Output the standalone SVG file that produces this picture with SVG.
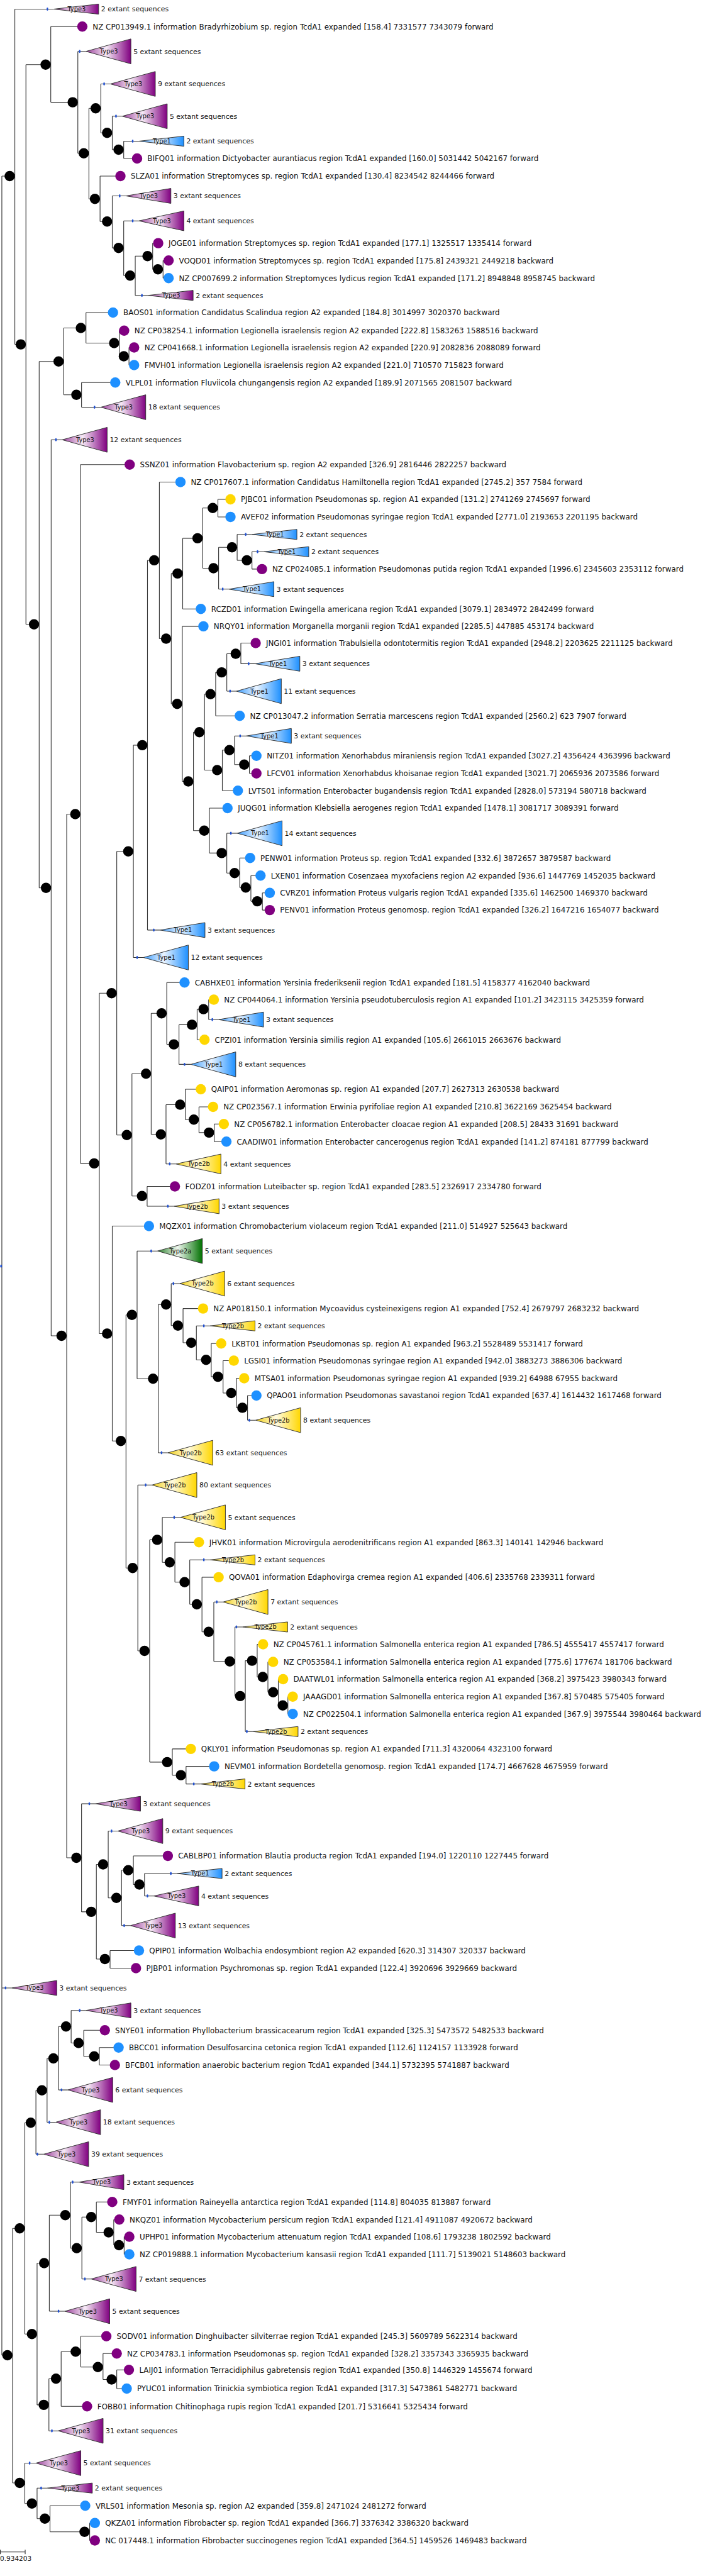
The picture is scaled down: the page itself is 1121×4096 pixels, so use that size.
<svg xmlns="http://www.w3.org/2000/svg" width="1121" height="4096" viewBox="0 0 1121 4096">
<defs>
<linearGradient id="G3" x1="0" y1="0" x2="1" y2="0"><stop offset="0" stop-color="#9b3f9b"/><stop offset="0.45" stop-color="#f6eaf6"/><stop offset="1" stop-color="#800080"/></linearGradient>
<linearGradient id="G1" x1="0" y1="0" x2="1" y2="0"><stop offset="0" stop-color="#3a9cff"/><stop offset="0.45" stop-color="#eaf4ff"/><stop offset="1" stop-color="#1e90ff"/></linearGradient>
<linearGradient id="G2b" x1="0" y1="0" x2="1" y2="0"><stop offset="0" stop-color="#f2cf10"/><stop offset="0.45" stop-color="#fffbe2"/><stop offset="1" stop-color="#ffd700"/></linearGradient>
<linearGradient id="G2a" x1="0" y1="0" x2="1" y2="0"><stop offset="0" stop-color="#2a7f2a"/><stop offset="0.45" stop-color="#eef6ee"/><stop offset="1" stop-color="#007000"/></linearGradient>
<style>
polygon{stroke:#333;stroke-width:1.4}
.g3{fill:url(#G3)}.g1{fill:url(#G1)}.g2b{fill:url(#G2b)}.g2a{fill:url(#G2a)}
text{font-family:"DejaVu Sans","Liberation Sans",sans-serif;fill:#111}
.lt{font-size:17px}
.et{font-size:15.6px}
.tt{font-size:14px;text-anchor:middle}
.sb{font-size:15px}
.c{fill:#000}
.p{fill:#800080}.b{fill:#1e90ff}.y{fill:#ffd700}
.m{fill:#2050d0}
#connectors path{fill:none;stroke:#333;stroke-width:1.6}
</style>
</defs>
<rect width="1121" height="4096" fill="#fff"/>
<g transform="scale(0.7)">
<g id="connectors">
<path d="M4.2 400V5350M4.2 400H22M4.2 4515.7H26.9M4.2 5350H16.9"/>
<path d="M33.7 20.7V782.3M33.7 20.7H122M33.7 782.3H47.2"/>
<path d="M58.9 146.7V1418.3M58.9 146.7H103.6M58.9 1418.3H77.3"/>
<path d="M115.3 60.3V232.3M115.3 60.3H187M115.3 232.3H165.1"/>
<path d="M176.8 116.7V348.3M176.8 116.7H195.3M176.8 348.3H190.3"/>
<path d="M202 246V451.7M202 246H217.3M202 451.7H215.6"/>
<path d="M229 190.7V301.7M229 190.7H250.8M229 301.7H243.3"/>
<path d="M255 264V340M255 264H277.8M255 340H269.3"/>
<path d="M281 320.7V360M281 320.7H315.7M281 360H311.4"/>
<path d="M227.3 400V503.3M227.3 400H273.6M227.3 503.3H243.3"/>
<path d="M255 445V563.3M255 445H286.2M255 563.3H269.3"/>
<path d="M281 501.7V626M281 501.7H315.7M281 626H295.5"/>
<path d="M307.2 581.7V671M307.2 581.7H335.1M307.2 671H336.7"/>
<path d="M346.8 552.3V611.7M346.8 552.3H359.4M346.8 611.7H358.7"/>
<path d="M370.4 591.7V631.7M370.4 591.7H383M370.4 631.7H383"/>
<path d="M89 821V2016.7M89 821H133.1M89 2016.7H104.5"/>
<path d="M144.8 745V896.7M144.8 745H183.6M144.8 896.7H173.5"/>
<path d="M195.3 710V779.3M195.3 710H256.7M195.3 779.3H259.3"/>
<path d="M271 751V809.3M271 751H282M271 809.3H281.3"/>
<path d="M293 789.3V829.3M293 789.3H304.7M293 829.3H304.7"/>
<path d="M185.2 869V925M185.2 869H261.8M185.2 925H229"/>
<path d="M116.2 999V3034.3M116.2 999H141.4M116.2 3034.3H139.8"/>
<path d="M151.5 1849.3V4220M151.5 1849.3H171M151.5 4220H173.5"/>
<path d="M182.7 1055.3V2642.7M182.7 1055.3H294.6M182.7 2642.7H213.9"/>
<path d="M225.6 2256V3029.3M225.6 2256H253.5M225.6 3029.3H243.3"/>
<path d="M265.2 1934V2578.3M265.2 1934H291.3M265.2 2578.3H288"/>
<path d="M303 1692.7V2175M303 1692.7H323.3M303 2175H325.8"/>
<path d="M335 1272.7V2112.7M335 1272.7H350.3M335 2112.7H363.6"/>
<path d="M362 1095V1450.7M362 1095H410M362 1450.7H377.3"/>
<path d="M389 1302.7V1599M389 1302.7H403.3M389 1599H402.4"/>
<path d="M415 1222.7V1383.3M415 1222.7H448.7M415 1383.3H456.2"/>
<path d="M460.4 1154V1290.7M460.4 1154H483.3M460.4 1290.7H484.9"/>
<path d="M495 1134.3V1174.3M495 1134.3H523.6M495 1174.3H523.6"/>
<path d="M496.6 1243.3V1338.3M496.6 1243.3H527M496.6 1338.3H520.2"/>
<path d="M538.7 1214V1272.7M538.7 1214H572.4M538.7 1272.7H560.7"/>
<path d="M572.4 1253.3V1292.7M572.4 1253.3H599.3M572.4 1292.7H595.1"/>
<path d="M414.1 1422.7V1775M414.1 1422.7H462.1M414.1 1775H427.7"/>
<path d="M439.4 1663.3V1886.7M439.4 1663.3H452.9M439.4 1886.7H463.9"/>
<path d="M464.6 1576.7V1749.3M464.6 1576.7H478.2M464.6 1749.3H493.3"/>
<path d="M489.9 1527.3V1626M489.9 1527.3H503.5M489.9 1626H544.6"/>
<path d="M515.2 1485V1570M515.2 1485H535.4M515.2 1570H537"/>
<path d="M547.1 1460.7V1507.7M547.1 1460.7H580.8M547.1 1507.7H579.1"/>
<path d="M505 1704V1796M505 1704H521.1M505 1796H540.4"/>
<path d="M532.8 1671.7V1736.7M532.8 1671.7H559.8M532.8 1736.7H554.8"/>
<path d="M566.5 1716.7V1756.7M566.5 1716.7H582.5M566.5 1756.7H582.5"/>
<path d="M475.6 1835.7V1937.7M475.6 1835.7H516.8M475.6 1937.7H503.5"/>
<path d="M515.2 1892.7V1983.3M515.2 1892.7H538.7M515.2 1983.3H532.9"/>
<path d="M544.6 1949V2016M544.6 1949H568.2M544.6 2016H558.2"/>
<path d="M569.9 1989V2047.3M569.9 1989H591.8M569.9 2047.3H584.3"/>
<path d="M596 2028.3V2067.3M596 2028.3H612.8M596 2067.3H612.8"/>
<path d="M299.7 2439V2716.7M299.7 2439H331.7M299.7 2716.7H322.5"/>
<path d="M343.4 2301.7V2576.7M343.4 2301.7H367.1M343.4 2576.7H365.4"/>
<path d="M378.8 2231.7V2372.3M378.8 2231.7H419.2M378.8 2372.3H394.9"/>
<path d="M406.6 2327.7V2417.7M406.6 2327.7H436.1M406.6 2417.7H433.5"/>
<path d="M447.8 2292.3V2361.7M447.8 2292.3H462.3M447.8 2361.7H464.6"/>
<path d="M474 2270.7V2316M474 2270.7H485.7M474 2316H496.6"/>
<path d="M377.1 2509.3V2644M377.1 2509.3H409.2M377.1 2644H399.8"/>
<path d="M420.9 2474.3V2543.3M420.9 2474.3H456.2M420.9 2543.3H440.3"/>
<path d="M452 2514.3V2572.7M452 2514.3H484M452 2572.7H474.8"/>
<path d="M486.5 2553.3V2593.3M486.5 2553.3H508.4M486.5 2593.3H514.3"/>
<path d="M334.2 2695V2740M334.2 2695H397.3M334.2 2740H395.6"/>
<path d="M255 2785V3273.3M255 2785H338.4M255 3273.3H274.5"/>
<path d="M286.2 2986.7V3561.7M286.2 2986.7H299.7M286.2 3561.7H301.4"/>
<path d="M311.4 2841.7V3131.7M311.4 2841.7H357.7M311.4 3131.7H347.7"/>
<path d="M359.4 2963.3V3300M359.4 2963.3H377.2M359.4 3300H381.3"/>
<path d="M388.9 2915.7V3011M388.9 2915.7H408.2M388.9 3011H404.1"/>
<path d="M415.8 2972.3V3050M415.8 2972.3H461.3M415.8 3050H434.4"/>
<path d="M446.1 3011.7V3089M446.1 3011.7H477.3M446.1 3089H468.1"/>
<path d="M479.8 3051.7V3127.3M479.8 3051.7H502.5M479.8 3127.3H495"/>
<path d="M506.7 3090.7V3164.3M506.7 3090.7H531.1M506.7 3164.3H525.3"/>
<path d="M537 3130.7V3197.7M537 3130.7H554.7M537 3197.7H550.6"/>
<path d="M562.3 3170V3226M562.3 3170H582.5M562.3 3226H580.8"/>
<path d="M313.1 3373.3V3750M313.1 3373.3H345.1M313.1 3750H328.3"/>
<path d="M340 3497.7V4002.7M340 3497.7H357M340 4002.7H379.7"/>
<path d="M368.7 3446.7V3549M368.7 3446.7H410M368.7 3549H385.6"/>
<path d="M397.3 3503.3V3594M397.3 3503.3H452M397.3 3594H419.3"/>
<path d="M431 3543.3V3644.3M431 3543.3H477.3M431 3644.3H447.1"/>
<path d="M458.8 3582.7V3706.7M458.8 3582.7H496.6M458.8 3706.7H474"/>
<path d="M485.7 3639V3774M485.7 3639H506.7M485.7 3774H522"/>
<path d="M533.7 3695.7V3852.7M533.7 3695.7H551.3M533.7 3852.7H545.5"/>
<path d="M557.2 3772.3V3933.3M557.2 3772.3H572.5M557.2 3933.3H575"/>
<path d="M584.2 3735V3809.3M584.2 3735H597.6M584.2 3809.3H596.9"/>
<path d="M608.6 3775V3844M608.6 3775H620.4M608.6 3844H620.5"/>
<path d="M632.2 3814.3V3874M632.2 3814.3H643.1M632.2 3874H642.3"/>
<path d="M654 3854V3893.3M654 3854H665M654 3893.3H665"/>
<path d="M391.4 3972.7V4032.3M391.4 3972.7H433.5M391.4 4032.3H410.9"/>
<path d="M422.6 4012.3V4052.3M422.6 4012.3H486.5M422.6 4052.3H454.5"/>
<path d="M185.2 4097.3V4342.7M185.2 4097.3H217.2M185.2 4342.7H207.2"/>
<path d="M218.9 4235V4450M218.9 4235H234.1M218.9 4450H238.3"/>
<path d="M245.8 4159.3V4311M245.8 4159.3H267.7M245.8 4311H264.4"/>
<path d="M276.1 4248.3V4374M276.1 4248.3H291.3M276.1 4374H296.3"/>
<path d="M303 4215.7V4280.7M303 4215.7H381.3M303 4280.7H316.6"/>
<path d="M328.3 4255.7V4306.7M328.3 4255.7H402.4M328.3 4306.7H349.3"/>
<path d="M250 4430.7V4470.7M250 4430.7H315.7M250 4470.7H308.9"/>
<path d="M28.6 5061.7V5640M28.6 5061.7H44.7M28.6 5640H44.7"/>
<path d="M56.4 4821.7V5301.7M56.4 4821.7H69.9M56.4 5301.7H72.5"/>
<path d="M81.6 4748.3V4893.3M81.6 4748.3H95.2M81.6 4893.3H99.3"/>
<path d="M106.9 4675.7V4820.7M106.9 4675.7H121.3M106.9 4820.7H126.3"/>
<path d="M133 4603.3V4747.3M133 4603.3H149.9M133 4747.3H154"/>
<path d="M161.6 4566.7V4640.7M161.6 4566.7H195.3M161.6 4640.7H178.5"/>
<path d="M190.2 4611.7V4671M190.2 4611.7H238.2M190.2 4671H213.9"/>
<path d="M225.6 4651V4690.7M225.6 4651H269.4M225.6 4690.7H261"/>
<path d="M84.2 5140.7V5462.7M84.2 5140.7H100.3M84.2 5462.7H99.4"/>
<path d="M112 5031.7V5250M112 5031.7H148.3M112 5250H147.3"/>
<path d="M160 4956.7V5106.7M160 4956.7H179.3M160 5106.7H174.3"/>
<path d="M186 5036V5176.7M186 5036H207.2M186 5176.7H207.1"/>
<path d="M218.9 5001.7V5070.7M218.9 5001.7H255M218.9 5070.7H246.7"/>
<path d="M258.4 5041.7V5100M258.4 5041.7H271M258.4 5100H270.3"/>
<path d="M282 5080.7V5120.7M282 5080.7H293.8M282 5120.7H293.8"/>
<path d="M111.1 5403.3V5521.7M111.1 5403.3H127.2M111.1 5521.7H132.2"/>
<path d="M138.9 5341.7V5466M138.9 5341.7H171.8M138.9 5466H197.8"/>
<path d="M183.5 5306.7V5376.7M183.5 5306.7H241.6M183.5 5376.7H222.3"/>
<path d="M234 5346V5405M234 5346H265.2M234 5405H253.5"/>
<path d="M265.2 5383.3V5425.7M265.2 5383.3H292.9M265.2 5425.7H287.9"/>
<path d="M56.4 5595V5686.7M56.4 5595H81.6M56.4 5686.7H72.5"/>
<path d="M84.2 5651.7V5721M84.2 5651.7H107.7M84.2 5721H101.9"/>
<path d="M113.6 5691.7V5751M113.6 5691.7H193.6M113.6 5751H192"/>
<path d="M203.7 5731V5770.7M203.7 5731H215.5M203.7 5770.7H215.5"/>
</g>
<g id="root"><ellipse class="m" cx="2.5" cy="2876" rx="2" ry="3.5"/></g>
<g id="internal-nodes">
<g id="nA"><circle class="c" cx="22" cy="400" r="11.7"/></g>
<g id="nB"><circle class="c" cx="47.2" cy="782.3" r="11.7"/></g>
<g id="na"><circle class="c" cx="103.6" cy="146.7" r="11.7"/></g>
<g id="nb"><circle class="c" cx="165.1" cy="232.3" r="11.7"/></g>
<g id="nd"><circle class="c" cx="190.3" cy="348.3" r="11.7"/></g>
<g id="nc"><circle class="c" cx="217.3" cy="246" r="11.7"/></g>
<g id="ne"><circle class="c" cx="243.3" cy="301.7" r="11.7"/></g>
<g id="nf"><circle class="c" cx="269.3" cy="340" r="11.7"/></g>
<g id="ng"><circle class="c" cx="215.6" cy="451.7" r="11.7"/></g>
<g id="nh"><circle class="c" cx="243.3" cy="503.3" r="11.7"/></g>
<g id="ni"><circle class="c" cx="269.3" cy="563.3" r="11.7"/></g>
<g id="nj"><circle class="c" cx="295.5" cy="626" r="11.7"/></g>
<g id="nk"><circle class="c" cx="335.1" cy="581.7" r="11.7"/></g>
<g id="nl"><circle class="c" cx="358.7" cy="611.7" r="11.7"/></g>
<g id="nC"><circle class="c" cx="77.3" cy="1418.3" r="11.7"/></g>
<g id="nm"><circle class="c" cx="133.1" cy="821" r="11.7"/></g>
<g id="nn"><circle class="c" cx="183.6" cy="745" r="11.7"/></g>
<g id="no"><circle class="c" cx="259.3" cy="779.3" r="11.7"/></g>
<g id="np"><circle class="c" cx="281.3" cy="809.3" r="11.7"/></g>
<g id="nq"><circle class="c" cx="173.5" cy="896.7" r="11.7"/></g>
<g id="nD"><circle class="c" cx="104.5" cy="2016.7" r="11.7"/></g>
<g id="nE"><circle class="c" cx="139.8" cy="3034.3" r="11.7"/></g>
<g id="nF"><circle class="c" cx="171" cy="1849.3" r="11.7"/></g>
<g id="nG"><circle class="c" cx="213.9" cy="2642.7" r="11.7"/></g>
<g id="nJ"><circle class="c" cx="253.5" cy="2256" r="11.7"/></g>
<g id="nI"><circle class="c" cx="291.3" cy="1934" r="11.7"/></g>
<g id="nH"><circle class="c" cx="323.3" cy="1692.7" r="11.7"/></g>
<g id="nr"><circle class="c" cx="350.3" cy="1272.7" r="11.7"/></g>
<g id="nt"><circle class="c" cx="377.3" cy="1450.7" r="11.7"/></g>
<g id="ns"><circle class="c" cx="403.3" cy="1302.7" r="11.7"/></g>
<g id="nu"><circle class="c" cx="448.7" cy="1222.7" r="11.7"/></g>
<g id="nv"><circle class="c" cx="483.3" cy="1154" r="11.7"/></g>
<g id="nw"><circle class="c" cx="484.9" cy="1290.7" r="11.7"/></g>
<g id="nx"><circle class="c" cx="527" cy="1243.3" r="11.7"/></g>
<g id="ny"><circle class="c" cx="560.7" cy="1272.7" r="11.7"/></g>
<g id="nz"><circle class="c" cx="402.4" cy="1599" r="11.7"/></g>
<g id="naa"><circle class="c" cx="427.7" cy="1775" r="11.7"/></g>
<g id="nae"><circle class="c" cx="452.9" cy="1663.3" r="11.7"/></g>
<g id="nad"><circle class="c" cx="478.2" cy="1576.7" r="11.7"/></g>
<g id="nac"><circle class="c" cx="503.5" cy="1527.3" r="11.7"/></g>
<g id="nab"><circle class="c" cx="535.4" cy="1485" r="11.7"/></g>
<g id="naf"><circle class="c" cx="493.3" cy="1749.3" r="11.7"/></g>
<g id="nag"><circle class="c" cx="521.1" cy="1704" r="11.7"/></g>
<g id="nah"><circle class="c" cx="554.8" cy="1736.7" r="11.7"/></g>
<g id="nai"><circle class="c" cx="463.9" cy="1886.7" r="11.7"/></g>
<g id="naj"><circle class="c" cx="503.5" cy="1937.7" r="11.7"/></g>
<g id="nak"><circle class="c" cx="532.9" cy="1983.3" r="11.7"/></g>
<g id="nal"><circle class="c" cx="558.2" cy="2016" r="11.7"/></g>
<g id="nam"><circle class="c" cx="584.3" cy="2047.3" r="11.7"/></g>
<g id="naw"><circle class="c" cx="288" cy="2578.3" r="11.7"/></g>
<g id="nap"><circle class="c" cx="331.7" cy="2439" r="11.7"/></g>
<g id="nan"><circle class="c" cx="367.1" cy="2301.7" r="11.7"/></g>
<g id="nao"><circle class="c" cx="394.9" cy="2372.3" r="11.7"/></g>
<g id="naq"><circle class="c" cx="436.1" cy="2327.7" r="11.7"/></g>
<g id="nar"><circle class="c" cx="462.3" cy="2292.3" r="11.7"/></g>
<g id="nas"><circle class="c" cx="365.4" cy="2576.7" r="11.7"/></g>
<g id="nat"><circle class="c" cx="409.2" cy="2509.3" r="11.7"/></g>
<g id="nau"><circle class="c" cx="440.3" cy="2543.3" r="11.7"/></g>
<g id="nav"><circle class="c" cx="474.8" cy="2572.7" r="11.7"/></g>
<g id="nax"><circle class="c" cx="322.5" cy="2716.7" r="11.7"/></g>
<g id="nay"><circle class="c" cx="243.3" cy="3029.3" r="11.7"/></g>
<g id="naz"><circle class="c" cx="274.5" cy="3273.3" r="11.7"/></g>
<g id="nba"><circle class="c" cx="299.7" cy="2986.7" r="11.7"/></g>
<g id="nbb"><circle class="c" cx="347.7" cy="3131.7" r="11.7"/></g>
<g id="nbc"><circle class="c" cx="377.2" cy="2963.3" r="11.7"/></g>
<g id="nbd"><circle class="c" cx="404.1" cy="3011" r="11.7"/></g>
<g id="nbe"><circle class="c" cx="434.4" cy="3050" r="11.7"/></g>
<g id="nbf"><circle class="c" cx="468.1" cy="3089" r="11.7"/></g>
<g id="nbg"><circle class="c" cx="495" cy="3127.3" r="11.7"/></g>
<g id="nbh"><circle class="c" cx="525.3" cy="3164.3" r="11.7"/></g>
<g id="nbi"><circle class="c" cx="550.6" cy="3197.7" r="11.7"/></g>
<g id="nbj"><circle class="c" cx="301.4" cy="3561.7" r="11.7"/></g>
<g id="nbw"><circle class="c" cx="328.3" cy="3750" r="11.7"/></g>
<g id="nbl"><circle class="c" cx="357" cy="3497.7" r="11.7"/></g>
<g id="nbm"><circle class="c" cx="385.6" cy="3549" r="11.7"/></g>
<g id="nbn"><circle class="c" cx="419.3" cy="3594" r="11.7"/></g>
<g id="nbo"><circle class="c" cx="447.1" cy="3644.3" r="11.7"/></g>
<g id="nbp"><circle class="c" cx="474" cy="3706.7" r="11.7"/></g>
<g id="nbq"><circle class="c" cx="522" cy="3774" r="11.7"/></g>
<g id="nbr"><circle class="c" cx="545.5" cy="3852.7" r="11.7"/></g>
<g id="nbs"><circle class="c" cx="572.5" cy="3772.3" r="11.7"/></g>
<g id="nbt"><circle class="c" cx="596.9" cy="3809.3" r="11.7"/></g>
<g id="nbu"><circle class="c" cx="620.5" cy="3844" r="11.7"/></g>
<g id="nbv"><circle class="c" cx="642.3" cy="3874" r="11.7"/></g>
<g id="nbx"><circle class="c" cx="379.7" cy="4002.7" r="11.7"/></g>
<g id="nby"><circle class="c" cx="410.9" cy="4032.3" r="11.7"/></g>
<g id="nbk"><circle class="c" cx="173.5" cy="4220" r="11.7"/></g>
<g id="nbz"><circle class="c" cx="207.2" cy="4342.7" r="11.7"/></g>
<g id="nca"><circle class="c" cx="234.1" cy="4235" r="11.7"/></g>
<g id="ncc"><circle class="c" cx="264.4" cy="4311" r="11.7"/></g>
<g id="ncd"><circle class="c" cx="291.3" cy="4248.3" r="11.7"/></g>
<g id="nce"><circle class="c" cx="316.6" cy="4280.7" r="11.7"/></g>
<g id="ncb"><circle class="c" cx="238.3" cy="4450" r="11.7"/></g>
<g id="ncf"><circle class="c" cx="16.9" cy="5350" r="11.7"/></g>
<g id="ncg"><circle class="c" cx="44.7" cy="5061.7" r="11.7"/></g>
<g id="nci"><circle class="c" cx="69.9" cy="4821.7" r="11.7"/></g>
<g id="nck"><circle class="c" cx="95.2" cy="4748.3" r="11.7"/></g>
<g id="ncl"><circle class="c" cx="121.3" cy="4675.7" r="11.7"/></g>
<g id="ncm"><circle class="c" cx="149.9" cy="4603.3" r="11.7"/></g>
<g id="ncn"><circle class="c" cx="178.5" cy="4640.7" r="11.7"/></g>
<g id="nco"><circle class="c" cx="213.9" cy="4671" r="11.7"/></g>
<g id="ncj"><circle class="c" cx="72.5" cy="5301.7" r="11.7"/></g>
<g id="ncp"><circle class="c" cx="100.3" cy="5140.7" r="11.7"/></g>
<g id="ncr"><circle class="c" cx="148.3" cy="5031.7" r="11.7"/></g>
<g id="ncs"><circle class="c" cx="174.3" cy="5106.7" r="11.7"/></g>
<g id="nct"><circle class="c" cx="207.2" cy="5036" r="11.7"/></g>
<g id="ncu"><circle class="c" cx="246.7" cy="5070.7" r="11.7"/></g>
<g id="ncv"><circle class="c" cx="270.3" cy="5100" r="11.7"/></g>
<g id="ncq"><circle class="c" cx="99.4" cy="5462.7" r="11.7"/></g>
<g id="ncw"><circle class="c" cx="127.2" cy="5403.3" r="11.7"/></g>
<g id="ncx"><circle class="c" cx="171.8" cy="5341.7" r="11.7"/></g>
<g id="ncy"><circle class="c" cx="222.3" cy="5376.7" r="11.7"/></g>
<g id="ncz"><circle class="c" cx="253.5" cy="5405" r="11.7"/></g>
<g id="nch"><circle class="c" cx="44.7" cy="5640" r="11.7"/></g>
<g id="nda"><circle class="c" cx="72.5" cy="5686.7" r="11.7"/></g>
<g id="ndb"><circle class="c" cx="101.9" cy="5721" r="11.7"/></g>
<g id="ndc"><circle class="c" cx="192" cy="5751" r="11.7"/></g>
</g>
<g id="collapsed-clades">
<g id="t1" transform="translate(122,20.7)"><polygon class="g3" points="0,0 102,-11.5 102,11.5"/><ellipse class="m" cx="-14.3" rx="2" ry="3.5"/><text class="tt" x="52" y="5">Type3</text><text class="et" x="107.8" y="5.6">2 extant sequences</text></g>
<g id="t2" transform="translate(195.3,116.7)"><polygon class="g3" points="0,0 102,-28.3 102,28.3"/><ellipse class="m" cx="-14.3" rx="2" ry="3.5"/><text class="tt" x="52" y="5">Type3</text><text class="et" x="107.8" y="5.6">5 extant sequences</text></g>
<g id="t3" transform="translate(250.8,190.7)"><polygon class="g3" points="0,0 102,-28.3 102,28.3"/><ellipse class="m" cx="-14.3" rx="2" ry="3.5"/><text class="tt" x="52" y="5">Type3</text><text class="et" x="107.8" y="5.6">9 extant sequences</text></g>
<g id="t4" transform="translate(277.8,264)"><polygon class="g3" points="0,0 102,-28.3 102,28.3"/><ellipse class="m" cx="-14.3" rx="2" ry="3.5"/><text class="tt" x="52" y="5">Type3</text><text class="et" x="107.8" y="5.6">5 extant sequences</text></g>
<g id="t5" transform="translate(315.7,320.7)"><polygon class="g1" points="0,0 102,-11.5 102,11.5"/><ellipse class="m" cx="-14.3" rx="2" ry="3.5"/><text class="tt" x="52" y="5">Type1</text><text class="et" x="107.8" y="5.6">2 extant sequences</text></g>
<g id="t6" transform="translate(286.2,445)"><polygon class="g3" points="0,0 102,-17 102,17"/><ellipse class="m" cx="-14.3" rx="2" ry="3.5"/><text class="tt" x="52" y="5">Type3</text><text class="et" x="107.8" y="5.6">3 extant sequences</text></g>
<g id="t7" transform="translate(315.7,501.7)"><polygon class="g3" points="0,0 102,-22.5 102,22.5"/><ellipse class="m" cx="-14.3" rx="2" ry="3.5"/><text class="tt" x="52" y="5">Type3</text><text class="et" x="107.8" y="5.6">4 extant sequences</text></g>
<g id="t8" transform="translate(336.7,671)"><polygon class="g3" points="0,0 102,-11.5 102,11.5"/><ellipse class="m" cx="-14.3" rx="2" ry="3.5"/><text class="tt" x="52" y="5">Type3</text><text class="et" x="107.8" y="5.6">2 extant sequences</text></g>
<g id="t9" transform="translate(229,925)"><polygon class="g3" points="0,0 102,-28.3 102,28.3"/><ellipse class="m" cx="-14.3" rx="2" ry="3.5"/><text class="tt" x="52" y="5">Type3</text><text class="et" x="107.8" y="5.6">18 extant sequences</text></g>
<g id="t10" transform="translate(141.4,999)"><polygon class="g3" points="0,0 102,-28.3 102,28.3"/><ellipse class="m" cx="-14.3" rx="2" ry="3.5"/><text class="tt" x="52" y="5">Type3</text><text class="et" x="107.8" y="5.6">12 extant sequences</text></g>
<g id="ta" transform="translate(572.4,1214)"><polygon class="g1" points="0,0 102,-11.5 102,11.5"/><ellipse class="m" cx="-14.3" rx="2" ry="3.5"/><text class="tt" x="52" y="5">Type1</text><text class="et" x="107.8" y="5.6">2 extant sequences</text></g>
<g id="tb" transform="translate(599.3,1253.3)"><polygon class="g1" points="0,0 102,-11.5 102,11.5"/><ellipse class="m" cx="-14.3" rx="2" ry="3.5"/><text class="tt" x="52" y="5">Type1</text><text class="et" x="107.8" y="5.6">2 extant sequences</text></g>
<g id="tc" transform="translate(520.2,1338.3)"><polygon class="g1" points="0,0 102,-17 102,17"/><ellipse class="m" cx="-14.3" rx="2" ry="3.5"/><text class="tt" x="52" y="5">Type1</text><text class="et" x="107.8" y="5.6">3 extant sequences</text></g>
<g id="td" transform="translate(579.1,1507.7)"><polygon class="g1" points="0,0 102,-17 102,17"/><ellipse class="m" cx="-14.3" rx="2" ry="3.5"/><text class="tt" x="52" y="5">Type1</text><text class="et" x="107.8" y="5.6">3 extant sequences</text></g>
<g id="te" transform="translate(537,1570)"><polygon class="g1" points="0,0 102,-28.3 102,28.3"/><ellipse class="m" cx="-14.3" rx="2" ry="3.5"/><text class="tt" x="52" y="5">Type1</text><text class="et" x="107.8" y="5.6">11 extant sequences</text></g>
<g id="tf" transform="translate(559.8,1671.7)"><polygon class="g1" points="0,0 102,-17 102,17"/><ellipse class="m" cx="-14.3" rx="2" ry="3.5"/><text class="tt" x="52" y="5">Type1</text><text class="et" x="107.8" y="5.6">3 extant sequences</text></g>
<g id="tg" transform="translate(538.7,1892.7)"><polygon class="g1" points="0,0 102,-28.3 102,28.3"/><ellipse class="m" cx="-14.3" rx="2" ry="3.5"/><text class="tt" x="52" y="5">Type1</text><text class="et" x="107.8" y="5.6">14 extant sequences</text></g>
<g id="th" transform="translate(363.6,2112.7)"><polygon class="g1" points="0,0 102,-17 102,17"/><ellipse class="m" cx="-14.3" rx="2" ry="3.5"/><text class="tt" x="52" y="5">Type1</text><text class="et" x="107.8" y="5.6">3 extant sequences</text></g>
<g id="ti" transform="translate(325.8,2175)"><polygon class="g1" points="0,0 102,-28.3 102,28.3"/><ellipse class="m" cx="-14.3" rx="2" ry="3.5"/><text class="tt" x="52" y="5">Type1</text><text class="et" x="107.8" y="5.6">12 extant sequences</text></g>
<g id="tj" transform="translate(433.5,2417.7)"><polygon class="g1" points="0,0 102,-28.3 102,28.3"/><ellipse class="m" cx="-14.3" rx="2" ry="3.5"/><text class="tt" x="52" y="5">Type1</text><text class="et" x="107.8" y="5.6">8 extant sequences</text></g>
<g id="tk" transform="translate(496.6,2316)"><polygon class="g1" points="0,0 102,-17 102,17"/><ellipse class="m" cx="-14.3" rx="2" ry="3.5"/><text class="tt" x="52" y="5">Type1</text><text class="et" x="107.8" y="5.6">3 extant sequences</text></g>
<g id="tl" transform="translate(399.8,2644)"><polygon class="g2b" points="0,0 102,-22.5 102,22.5"/><ellipse class="m" cx="-14.3" rx="2" ry="3.5"/><text class="tt" x="52" y="5">Type2b</text><text class="et" x="107.8" y="5.6">4 extant sequences</text></g>
<g id="tm" transform="translate(395.6,2740)"><polygon class="g2b" points="0,0 102,-17 102,17"/><ellipse class="m" cx="-14.3" rx="2" ry="3.5"/><text class="tt" x="52" y="5">Type2b</text><text class="et" x="107.8" y="5.6">3 extant sequences</text></g>
<g id="tn" transform="translate(357.7,2841.7)"><polygon class="g2a" points="0,0 102,-28.3 102,28.3"/><ellipse class="m" cx="-14.3" rx="2" ry="3.5"/><text class="tt" x="52" y="5">Type2a</text><text class="et" x="107.8" y="5.6">5 extant sequences</text></g>
<g id="to" transform="translate(408.2,2915.7)"><polygon class="g2b" points="0,0 102,-28.3 102,28.3"/><ellipse class="m" cx="-14.3" rx="2" ry="3.5"/><text class="tt" x="52" y="5">Type2b</text><text class="et" x="107.8" y="5.6">6 extant sequences</text></g>
<g id="tp" transform="translate(477.3,3011.7)"><polygon class="g2b" points="0,0 102,-11.5 102,11.5"/><ellipse class="m" cx="-14.3" rx="2" ry="3.5"/><text class="tt" x="52" y="5">Type2b</text><text class="et" x="107.8" y="5.6">2 extant sequences</text></g>
<g id="tq" transform="translate(580.8,3226)"><polygon class="g2b" points="0,0 102,-28.3 102,28.3"/><ellipse class="m" cx="-14.3" rx="2" ry="3.5"/><text class="tt" x="52" y="5">Type2b</text><text class="et" x="107.8" y="5.6">8 extant sequences</text></g>
<g id="tr" transform="translate(381.3,3300)"><polygon class="g2b" points="0,0 102,-28.3 102,28.3"/><ellipse class="m" cx="-14.3" rx="2" ry="3.5"/><text class="tt" x="52" y="5">Type2b</text><text class="et" x="107.8" y="5.6">63 extant sequences</text></g>
<g id="tx" transform="translate(345.1,3373.3)"><polygon class="g2b" points="0,0 102,-28.3 102,28.3"/><ellipse class="m" cx="-14.3" rx="2" ry="3.5"/><text class="tt" x="52" y="5">Type2b</text><text class="et" x="107.8" y="5.6">80 extant sequences</text></g>
<g id="ts" transform="translate(410,3446.7)"><polygon class="g2b" points="0,0 102,-28.3 102,28.3"/><ellipse class="m" cx="-14.3" rx="2" ry="3.5"/><text class="tt" x="52" y="5">Type2b</text><text class="et" x="107.8" y="5.6">5 extant sequences</text></g>
<g id="tt" transform="translate(477.3,3543.3)"><polygon class="g2b" points="0,0 102,-11.5 102,11.5"/><ellipse class="m" cx="-14.3" rx="2" ry="3.5"/><text class="tt" x="52" y="5">Type2b</text><text class="et" x="107.8" y="5.6">2 extant sequences</text></g>
<g id="tu" transform="translate(506.7,3639)"><polygon class="g2b" points="0,0 102,-28.3 102,28.3"/><ellipse class="m" cx="-14.3" rx="2" ry="3.5"/><text class="tt" x="52" y="5">Type2b</text><text class="et" x="107.8" y="5.6">7 extant sequences</text></g>
<g id="tv" transform="translate(551.3,3695.7)"><polygon class="g2b" points="0,0 102,-11.5 102,11.5"/><ellipse class="m" cx="-14.3" rx="2" ry="3.5"/><text class="tt" x="52" y="5">Type2b</text><text class="et" x="107.8" y="5.6">2 extant sequences</text></g>
<g id="tw" transform="translate(575,3933.3)"><polygon class="g2b" points="0,0 102,-11.5 102,11.5"/><ellipse class="m" cx="-14.3" rx="2" ry="3.5"/><text class="tt" x="52" y="5">Type2b</text><text class="et" x="107.8" y="5.6">2 extant sequences</text></g>
<g id="ty" transform="translate(454.5,4052.3)"><polygon class="g2b" points="0,0 102,-11.5 102,11.5"/><ellipse class="m" cx="-14.3" rx="2" ry="3.5"/><text class="tt" x="52" y="5">Type2b</text><text class="et" x="107.8" y="5.6">2 extant sequences</text></g>
<g id="tz" transform="translate(217.2,4097.3)"><polygon class="g3" points="0,0 102,-17 102,17"/><ellipse class="m" cx="-14.3" rx="2" ry="3.5"/><text class="tt" x="52" y="5">Type3</text><text class="et" x="107.8" y="5.6">3 extant sequences</text></g>
<g id="taa" transform="translate(267.7,4159.3)"><polygon class="g3" points="0,0 102,-28.3 102,28.3"/><ellipse class="m" cx="-14.3" rx="2" ry="3.5"/><text class="tt" x="52" y="5">Type3</text><text class="et" x="107.8" y="5.6">9 extant sequences</text></g>
<g id="tab" transform="translate(296.3,4374)"><polygon class="g3" points="0,0 102,-28.3 102,28.3"/><ellipse class="m" cx="-14.3" rx="2" ry="3.5"/><text class="tt" x="52" y="5">Type3</text><text class="et" x="107.8" y="5.6">13 extant sequences</text></g>
<g id="tac" transform="translate(402.4,4255.7)"><polygon class="g1" points="0,0 102,-11.5 102,11.5"/><ellipse class="m" cx="-14.3" rx="2" ry="3.5"/><text class="tt" x="52" y="5">Type1</text><text class="et" x="107.8" y="5.6">2 extant sequences</text></g>
<g id="tad" transform="translate(349.3,4306.7)"><polygon class="g3" points="0,0 102,-22.5 102,22.5"/><ellipse class="m" cx="-14.3" rx="2" ry="3.5"/><text class="tt" x="52" y="5">Type3</text><text class="et" x="107.8" y="5.6">4 extant sequences</text></g>
<g id="tae" transform="translate(26.9,4515.7)"><polygon class="g3" points="0,0 102,-17 102,17"/><ellipse class="m" cx="-14.3" rx="2" ry="3.5"/><text class="tt" x="52" y="5">Type3</text><text class="et" x="107.8" y="5.6">3 extant sequences</text></g>
<g id="tai" transform="translate(195.3,4566.7)"><polygon class="g3" points="0,0 102,-17 102,17"/><ellipse class="m" cx="-14.3" rx="2" ry="3.5"/><text class="tt" x="52" y="5">Type3</text><text class="et" x="107.8" y="5.6">3 extant sequences</text></g>
<g id="tah" transform="translate(154,4747.3)"><polygon class="g3" points="0,0 102,-28.3 102,28.3"/><ellipse class="m" cx="-14.3" rx="2" ry="3.5"/><text class="tt" x="52" y="5">Type3</text><text class="et" x="107.8" y="5.6">6 extant sequences</text></g>
<g id="tag" transform="translate(126.3,4820.7)"><polygon class="g3" points="0,0 102,-28.3 102,28.3"/><ellipse class="m" cx="-14.3" rx="2" ry="3.5"/><text class="tt" x="52" y="5">Type3</text><text class="et" x="107.8" y="5.6">18 extant sequences</text></g>
<g id="taf" transform="translate(99.3,4893.3)"><polygon class="g3" points="0,0 102,-28.3 102,28.3"/><ellipse class="m" cx="-14.3" rx="2" ry="3.5"/><text class="tt" x="52" y="5">Type3</text><text class="et" x="107.8" y="5.6">39 extant sequences</text></g>
<g id="tak" transform="translate(179.3,4956.7)"><polygon class="g3" points="0,0 102,-17 102,17"/><ellipse class="m" cx="-14.3" rx="2" ry="3.5"/><text class="tt" x="52" y="5">Type3</text><text class="et" x="107.8" y="5.6">3 extant sequences</text></g>
<g id="tal" transform="translate(207.1,5176.7)"><polygon class="g3" points="0,0 102,-28.3 102,28.3"/><ellipse class="m" cx="-14.3" rx="2" ry="3.5"/><text class="tt" x="52" y="5">Type3</text><text class="et" x="107.8" y="5.6">7 extant sequences</text></g>
<g id="taj" transform="translate(147.3,5250)"><polygon class="g3" points="0,0 102,-28.3 102,28.3"/><ellipse class="m" cx="-14.3" rx="2" ry="3.5"/><text class="tt" x="52" y="5">Type3</text><text class="et" x="107.8" y="5.6">5 extant sequences</text></g>
<g id="tam" transform="translate(132.2,5521.7)"><polygon class="g3" points="0,0 102,-28.3 102,28.3"/><ellipse class="m" cx="-14.3" rx="2" ry="3.5"/><text class="tt" x="52" y="5">Type3</text><text class="et" x="107.8" y="5.6">31 extant sequences</text></g>
<g id="tan" transform="translate(81.6,5595)"><polygon class="g3" points="0,0 102,-28.3 102,28.3"/><ellipse class="m" cx="-14.3" rx="2" ry="3.5"/><text class="tt" x="52" y="5">Type3</text><text class="et" x="107.8" y="5.6">5 extant sequences</text></g>
<g id="tao" transform="translate(107.7,5651.7)"><polygon class="g3" points="0,0 102,-11.5 102,11.5"/><ellipse class="m" cx="-14.3" rx="2" ry="3.5"/><text class="tt" x="52" y="5">Type3</text><text class="et" x="107.8" y="5.6">2 extant sequences</text></g>
</g>
<g id="leaves">
<g id="l1" transform="translate(187,60.3)"><circle class="p" r="11.7"/><text class="lt" x="23.4" y="6.2">NZ CP013949.1 information Bradyrhizobium sp. region TcdA1 expanded [158.4] 7331577 7343079 forward</text></g>
<g id="l2" transform="translate(311.4,360)"><circle class="p" r="11.7"/><text class="lt" x="23.4" y="6.2">BIFQ01 information Dictyobacter aurantiacus region TcdA1 expanded [160.0] 5031442 5042167 forward</text></g>
<g id="l3" transform="translate(273.6,400)"><circle class="p" r="11.7"/><text class="lt" x="23.4" y="6.2">SLZA01 information Streptomyces sp. region TcdA1 expanded [130.4] 8234542 8244466 forward</text></g>
<g id="l4" transform="translate(359.4,552.3)"><circle class="p" r="11.7"/><text class="lt" x="23.4" y="6.2">JOGE01 information Streptomyces sp. region TcdA1 expanded [177.1] 1325517 1335414 forward</text></g>
<g id="l5" transform="translate(383,591.7)"><circle class="p" r="11.7"/><text class="lt" x="23.4" y="6.2">VOQD01 information Streptomyces sp. region TcdA1 expanded [175.8] 2439321 2449218 backward</text></g>
<g id="l6" transform="translate(383,631.7)"><circle class="b" r="11.7"/><text class="lt" x="23.4" y="6.2">NZ CP007699.2 information Streptomyces lydicus region TcdA1 expanded [171.2] 8948848 8958745 backward</text></g>
<g id="l7" transform="translate(256.7,710)"><circle class="b" r="11.7"/><text class="lt" x="23.4" y="6.2">BAOS01 information Candidatus Scalindua region A2 expanded [184.8] 3014997 3020370 backward</text></g>
<g id="l8" transform="translate(282,751)"><circle class="p" r="11.7"/><text class="lt" x="23.4" y="6.2">NZ CP038254.1 information Legionella israelensis region A2 expanded [222.8] 1583263 1588516 backward</text></g>
<g id="l9" transform="translate(304.7,789.3)"><circle class="p" r="11.7"/><text class="lt" x="23.4" y="6.2">NZ CP041668.1 information Legionella israelensis region A2 expanded [220.9] 2082836 2088089 forward</text></g>
<g id="l10" transform="translate(304.7,829.3)"><circle class="b" r="11.7"/><text class="lt" x="23.4" y="6.2">FMVH01 information Legionella israelensis region A2 expanded [221.0] 710570 715823 forward</text></g>
<g id="l11" transform="translate(261.8,869)"><circle class="b" r="11.7"/><text class="lt" x="23.4" y="6.2">VLPL01 information Fluviicola chungangensis region A2 expanded [189.9] 2071565 2081507 backward</text></g>
<g id="l12" transform="translate(294.6,1055.3)"><circle class="p" r="11.7"/><text class="lt" x="23.4" y="6.2">SSNZ01 information Flavobacterium sp. region A2 expanded [326.9] 2816446 2822257 backward</text></g>
<g id="l13" transform="translate(410,1095)"><circle class="b" r="11.7"/><text class="lt" x="23.4" y="6.2">NZ CP017607.1 information Candidatus Hamiltonella region TcdA1 expanded [2745.2] 357 7584 forward</text></g>
<g id="l14" transform="translate(523.6,1134.3)"><circle class="y" r="11.7"/><text class="lt" x="23.4" y="6.2">PJBC01 information Pseudomonas sp. region A1 expanded [131.2] 2741269 2745697 forward</text></g>
<g id="l15" transform="translate(523.6,1174.3)"><circle class="b" r="11.7"/><text class="lt" x="23.4" y="6.2">AVEF02 information Pseudomonas syringae region TcdA1 expanded [2771.0] 2193653 2201195 backward</text></g>
<g id="l16" transform="translate(595.1,1292.7)"><circle class="p" r="11.7"/><text class="lt" x="23.4" y="6.2">NZ CP024085.1 information Pseudomonas putida region TcdA1 expanded [1996.6] 2345603 2353112 forward</text></g>
<g id="l17" transform="translate(456.2,1383.3)"><circle class="b" r="11.7"/><text class="lt" x="23.4" y="6.2">RCZD01 information Ewingella americana region TcdA1 expanded [3079.1] 2834972 2842499 forward</text></g>
<g id="l18" transform="translate(462.1,1422.7)"><circle class="b" r="11.7"/><text class="lt" x="23.4" y="6.2">NRQY01 information Morganella morganii region TcdA1 expanded [2285.5] 447885 453174 backward</text></g>
<g id="l19" transform="translate(580.8,1460.7)"><circle class="p" r="11.7"/><text class="lt" x="23.4" y="6.2">JNGI01 information Trabulsiella odontotermitis region TcdA1 expanded [2948.2] 2203625 2211125 backward</text></g>
<g id="l20" transform="translate(544.6,1626)"><circle class="b" r="11.7"/><text class="lt" x="23.4" y="6.2">NZ CP013047.2 information Serratia marcescens region TcdA1 expanded [2560.2] 623 7907 forward</text></g>
<g id="l21" transform="translate(582.5,1716.7)"><circle class="b" r="11.7"/><text class="lt" x="23.4" y="6.2">NITZ01 information Xenorhabdus miraniensis region TcdA1 expanded [3027.2] 4356424 4363996 backward</text></g>
<g id="l22" transform="translate(582.5,1756.7)"><circle class="p" r="11.7"/><text class="lt" x="23.4" y="6.2">LFCV01 information Xenorhabdus khoisanae region TcdA1 expanded [3021.7] 2065936 2073586 forward</text></g>
<g id="l23" transform="translate(540.4,1796)"><circle class="b" r="11.7"/><text class="lt" x="23.4" y="6.2">LVTS01 information Enterobacter bugandensis region TcdA1 expanded [2828.0] 573194 580718 backward</text></g>
<g id="l24" transform="translate(516.8,1835.7)"><circle class="b" r="11.7"/><text class="lt" x="23.4" y="6.2">JUQG01 information Klebsiella aerogenes region TcdA1 expanded [1478.1] 3081717 3089391 forward</text></g>
<g id="l25" transform="translate(568.2,1949)"><circle class="b" r="11.7"/><text class="lt" x="23.4" y="6.2">PENW01 information Proteus sp. region TcdA1 expanded [332.6] 3872657 3879587 backward</text></g>
<g id="l26" transform="translate(591.8,1989)"><circle class="b" r="11.7"/><text class="lt" x="23.4" y="6.2">LXEN01 information Cosenzaea myxofaciens region A2 expanded [936.6] 1447769 1452035 backward</text></g>
<g id="l27" transform="translate(612.8,2028.3)"><circle class="b" r="11.7"/><text class="lt" x="23.4" y="6.2">CVRZ01 information Proteus vulgaris region TcdA1 expanded [335.6] 1462500 1469370 backward</text></g>
<g id="l28" transform="translate(612.8,2067.3)"><circle class="p" r="11.7"/><text class="lt" x="23.4" y="6.2">PENV01 information Proteus genomosp. region TcdA1 expanded [326.2] 1647216 1654077 backward</text></g>
<g id="l29" transform="translate(419.2,2231.7)"><circle class="b" r="11.7"/><text class="lt" x="23.4" y="6.2">CABHXE01 information Yersinia frederiksenii region TcdA1 expanded [181.5] 4158377 4162040 backward</text></g>
<g id="l30" transform="translate(485.7,2270.7)"><circle class="y" r="11.7"/><text class="lt" x="23.4" y="6.2">NZ CP044064.1 information Yersinia pseudotuberculosis region A1 expanded [101.2] 3423115 3425359 forward</text></g>
<g id="l31" transform="translate(464.6,2361.7)"><circle class="y" r="11.7"/><text class="lt" x="23.4" y="6.2">CPZI01 information Yersinia similis region A1 expanded [105.6] 2661015 2663676 backward</text></g>
<g id="l32" transform="translate(456.2,2474.3)"><circle class="y" r="11.7"/><text class="lt" x="23.4" y="6.2">QAIP01 information Aeromonas sp. region A1 expanded [207.7] 2627313 2630538 backward</text></g>
<g id="l33" transform="translate(484,2514.3)"><circle class="y" r="11.7"/><text class="lt" x="23.4" y="6.2">NZ CP023567.1 information Erwinia pyrifoliae region A1 expanded [210.8] 3622169 3625454 backward</text></g>
<g id="l34" transform="translate(508.4,2553.3)"><circle class="y" r="11.7"/><text class="lt" x="23.4" y="6.2">NZ CP056782.1 information Enterobacter cloacae region A1 expanded [208.5] 28433 31691 backward</text></g>
<g id="l35" transform="translate(514.3,2593.3)"><circle class="b" r="11.7"/><text class="lt" x="23.4" y="6.2">CAADIW01 information Enterobacter cancerogenus region TcdA1 expanded [141.2] 874181 877799 backward</text></g>
<g id="l36" transform="translate(397.3,2695)"><circle class="p" r="11.7"/><text class="lt" x="23.4" y="6.2">FODZ01 information Luteibacter sp. region TcdA1 expanded [283.5] 2326917 2334780 forward</text></g>
<g id="l37" transform="translate(338.4,2785)"><circle class="b" r="11.7"/><text class="lt" x="23.4" y="6.2">MQZX01 information Chromobacterium violaceum region TcdA1 expanded [211.0] 514927 525643 backward</text></g>
<g id="l38" transform="translate(461.3,2972.3)"><circle class="y" r="11.7"/><text class="lt" x="23.4" y="6.2">NZ AP018150.1 information Mycoavidus cysteinexigens region A1 expanded [752.4] 2679797 2683232 backward</text></g>
<g id="l39" transform="translate(502.5,3051.7)"><circle class="y" r="11.7"/><text class="lt" x="23.4" y="6.2">LKBT01 information Pseudomonas sp. region A1 expanded [963.2] 5528489 5531417 forward</text></g>
<g id="l40" transform="translate(531.1,3090.7)"><circle class="y" r="11.7"/><text class="lt" x="23.4" y="6.2">LGSI01 information Pseudomonas syringae region A1 expanded [942.0] 3883273 3886306 backward</text></g>
<g id="l41" transform="translate(554.7,3130.7)"><circle class="y" r="11.7"/><text class="lt" x="23.4" y="6.2">MTSA01 information Pseudomonas syringae region A1 expanded [939.2] 64988 67955 backward</text></g>
<g id="l42" transform="translate(582.5,3170)"><circle class="b" r="11.7"/><text class="lt" x="23.4" y="6.2">QPAO01 information Pseudomonas savastanoi region TcdA1 expanded [637.4] 1614432 1617468 forward</text></g>
<g id="l43" transform="translate(452,3503.3)"><circle class="y" r="11.7"/><text class="lt" x="23.4" y="6.2">JHVK01 information Microvirgula aerodenitrificans region A1 expanded [863.3] 140141 142946 backward</text></g>
<g id="l44" transform="translate(496.6,3582.7)"><circle class="y" r="11.7"/><text class="lt" x="23.4" y="6.2">QOVA01 information Edaphovirga cremea region A1 expanded [406.6] 2335768 2339311 forward</text></g>
<g id="l45" transform="translate(597.6,3735)"><circle class="y" r="11.7"/><text class="lt" x="23.4" y="6.2">NZ CP045761.1 information Salmonella enterica region A1 expanded [786.5] 4555417 4557417 forward</text></g>
<g id="l46" transform="translate(620.4,3775)"><circle class="y" r="11.7"/><text class="lt" x="23.4" y="6.2">NZ CP053584.1 information Salmonella enterica region A1 expanded [775.6] 177674 181706 backward</text></g>
<g id="l47" transform="translate(643.1,3814.3)"><circle class="y" r="11.7"/><text class="lt" x="23.4" y="6.2">DAATWL01 information Salmonella enterica region A1 expanded [368.2] 3975423 3980343 forward</text></g>
<g id="l48" transform="translate(665,3854)"><circle class="y" r="11.7"/><text class="lt" x="23.4" y="6.2">JAAAGD01 information Salmonella enterica region A1 expanded [367.8] 570485 575405 forward</text></g>
<g id="l49" transform="translate(665,3893.3)"><circle class="b" r="11.7"/><text class="lt" x="23.4" y="6.2">NZ CP022504.1 information Salmonella enterica region A1 expanded [367.9] 3975544 3980464 backward</text></g>
<g id="l50" transform="translate(433.5,3972.7)"><circle class="y" r="11.7"/><text class="lt" x="23.4" y="6.2">QKLY01 information Pseudomonas sp. region A1 expanded [711.3] 4320064 4323100 forward</text></g>
<g id="l51" transform="translate(486.5,4012.3)"><circle class="b" r="11.7"/><text class="lt" x="23.4" y="6.2">NEVM01 information Bordetella genomosp. region TcdA1 expanded [174.7] 4667628 4675959 forward</text></g>
<g id="l52" transform="translate(381.3,4215.7)"><circle class="p" r="11.7"/><text class="lt" x="23.4" y="6.2">CABLBP01 information Blautia producta region TcdA1 expanded [194.0] 1220110 1227445 forward</text></g>
<g id="l53" transform="translate(315.7,4430.7)"><circle class="b" r="11.7"/><text class="lt" x="23.4" y="6.2">QPIP01 information Wolbachia endosymbiont region A2 expanded [620.3] 314307 320337 backward</text></g>
<g id="l54" transform="translate(308.9,4470.7)"><circle class="p" r="11.7"/><text class="lt" x="23.4" y="6.2">PJBP01 information Psychromonas sp. region TcdA1 expanded [122.4] 3920696 3929669 backward</text></g>
<g id="l55" transform="translate(238.2,4611.7)"><circle class="p" r="11.7"/><text class="lt" x="23.4" y="6.2">SNYE01 information Phyllobacterium brassicacearum region TcdA1 expanded [325.3] 5473572 5482533 backward</text></g>
<g id="l56" transform="translate(269.4,4651)"><circle class="b" r="11.7"/><text class="lt" x="23.4" y="6.2">BBCC01 information Desulfosarcina cetonica region TcdA1 expanded [112.6] 1124157 1133928 forward</text></g>
<g id="l57" transform="translate(261,4690.7)"><circle class="p" r="11.7"/><text class="lt" x="23.4" y="6.2">BFCB01 information anaerobic bacterium region TcdA1 expanded [344.1] 5732395 5741887 backward</text></g>
<g id="l58" transform="translate(255,5001.7)"><circle class="p" r="11.7"/><text class="lt" x="23.4" y="6.2">FMYF01 information Raineyella antarctica region TcdA1 expanded [114.8] 804035 813887 forward</text></g>
<g id="l59" transform="translate(271,5041.7)"><circle class="p" r="11.7"/><text class="lt" x="23.4" y="6.2">NKQZ01 information Mycobacterium persicum region TcdA1 expanded [121.4] 4911087 4920672 backward</text></g>
<g id="l60" transform="translate(293.8,5080.7)"><circle class="p" r="11.7"/><text class="lt" x="23.4" y="6.2">UPHP01 information Mycobacterium attenuatum region TcdA1 expanded [108.6] 1793238 1802592 backward</text></g>
<g id="l61" transform="translate(293.8,5120.7)"><circle class="b" r="11.7"/><text class="lt" x="23.4" y="6.2">NZ CP019888.1 information Mycobacterium kansasii region TcdA1 expanded [111.7] 5139021 5148603 backward</text></g>
<g id="l62" transform="translate(241.6,5306.7)"><circle class="p" r="11.7"/><text class="lt" x="23.4" y="6.2">SODV01 information Dinghuibacter silviterrae region TcdA1 expanded [245.3] 5609789 5622314 backward</text></g>
<g id="l63" transform="translate(265.2,5346)"><circle class="p" r="11.7"/><text class="lt" x="23.4" y="6.2">NZ CP034783.1 information Pseudomonas sp. region TcdA1 expanded [328.2] 3357343 3365935 backward</text></g>
<g id="l64" transform="translate(292.9,5383.3)"><circle class="p" r="11.7"/><text class="lt" x="23.4" y="6.2">LAIJ01 information Terracidiphilus gabretensis region TcdA1 expanded [350.8] 1446329 1455674 forward</text></g>
<g id="l66" transform="translate(287.9,5425.7)"><circle class="b" r="11.7"/><text class="lt" x="23.4" y="6.2">PYUC01 information Trinickia symbiotica region TcdA1 expanded [317.3] 5473861 5482771 backward</text></g>
<g id="l65" transform="translate(197.8,5466)"><circle class="p" r="11.7"/><text class="lt" x="23.4" y="6.2">FOBB01 information Chitinophaga rupis region TcdA1 expanded [201.7] 5316641 5325434 forward</text></g>
<g id="l67" transform="translate(193.6,5691.7)"><circle class="b" r="11.7"/><text class="lt" x="23.4" y="6.2">VRLS01 information Mesonia sp. region A2 expanded [359.8] 2471024 2481272 forward</text></g>
<g id="l68" transform="translate(215.5,5731)"><circle class="b" r="11.7"/><text class="lt" x="23.4" y="6.2">QKZA01 information Fibrobacter sp. region TcdA1 expanded [366.7] 3376342 3386320 backward</text></g>
<g id="l69" transform="translate(215.5,5770.7)"><circle class="p" r="11.7"/><text class="lt" x="23.4" y="6.2">NC 017448.1 information Fibrobacter succinogenes region TcdA1 expanded [364.5] 1459526 1469483 backward</text></g>
</g>
<g id="scale-bar">
<path d="M0.8 5796.7H57.2M0.8 5791.7V5801.7M57.2 5791.7V5801.7" fill="none" stroke="#333" stroke-width="1.6"/>
<text class="sb" x="0" y="5817">0.934203</text>
</g>
</g>
</svg>
